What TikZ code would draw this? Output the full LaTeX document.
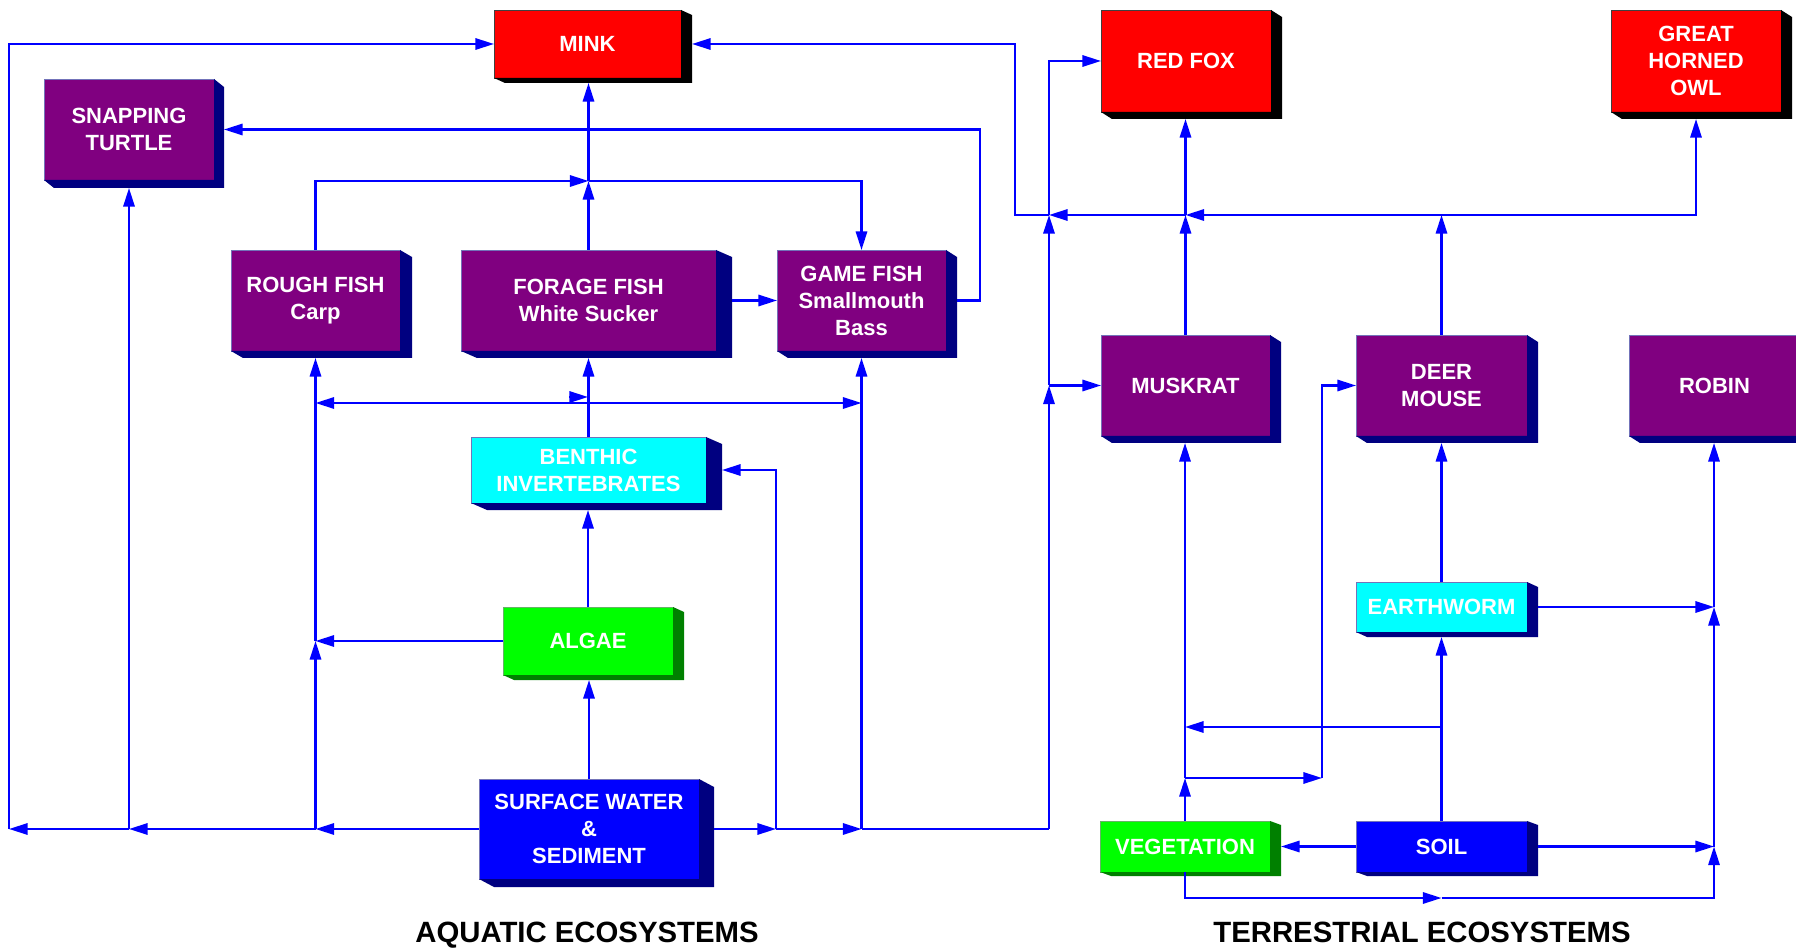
\documentclass[tikz,border=0pt]{standalone}
\usepackage{fontspec}
\setmainfont{Liberation Sans}
\usetikzlibrary{arrows.meta,calc}
\definecolor{cpurple}{RGB}{128,0,128}
\definecolor{cnavy}{RGB}{0,0,128}
\definecolor{ccyan}{RGB}{0,255,255}
\definecolor{cgreen}{RGB}{0,255,0}
\definecolor{cdkgreen}{RGB}{0,128,0}
\definecolor{cblue}{RGB}{0,0,255}
\definecolor{cred}{RGB}{255,0,0}
\newcommand\ecoboxfont{\fontsize{16.5pt}{20.25pt}\selectfont\bfseries}
\newcommand\ecotitlefont{\fontsize{22pt}{26pt}\selectfont\bfseries}
\newcommand\boxshadow[4]{%
  \fill[#2] (#1.north east) -- ++(#3,#4) -- ([shift={(#3,#4)}]#1.south east) -- ([shift={(#3,#4)}]#1.south west) -- (#1.south west) -- (#1.south east) -- cycle;
  \coordinate (#1-s) at ([shift={(#3,#4)}]#1.south east);}
\tikzset{
  box/.style={rectangle, fill=#1, inner sep=0pt, outer sep=0pt, text=white, font=\ecoboxfont, align=center, line width=0.6pt},
  redbox/.style={box=cred, draw=black!75},
  purplebox/.style={box=cpurple, draw=cnavy!55!white},
  cyanbox/.style={box=ccyan, draw=cnavy!55!white},
  greenbox/.style={box=cgreen, draw=cdkgreen!60!white},
  bluebox/.style={box=cblue, draw=cnavy!55!white},
  arr/.style={-{Triangle[length=14pt,width=8.5pt]}},
  darr/.style={{Triangle[length=14pt,width=8.5pt]}-{Triangle[length=14pt,width=8.5pt]}},
  conn/.style={draw=cblue, line width=1.6pt},
  ecotitle/.style={font=\ecotitlefont, text=black, inner sep=0pt, anchor=base}
}
\begin{document}
\begin{tikzpicture}[x=0.75pt,y=-0.75pt]
\fill[white] (0,0) rectangle (1796,948);
\useasboundingbox (0,0) rectangle (1796,948);

% ---------- boxes ----------
\node[redbox, minimum width=140.25pt, minimum height=51pt] (mink) at (587.5,44) {MINK};
\boxshadow{mink}{black}{11}{5}
\node[purplebox, minimum width=127.5pt, minimum height=75.75pt] (turtle) at (129,129.5) {SNAPPING\\TURTLE};
\boxshadow{turtle}{cnavy}{10}{8}
\node[purplebox, minimum width=126.75pt, minimum height=75.75pt] (rough) at (315.5,300.5) {ROUGH FISH\\Carp};
\boxshadow{rough}{cnavy}{12}{7}
\node[purplebox, minimum width=191.25pt, minimum height=75.75pt] (forage) at (588.5,300.5) {FORAGE FISH\\White Sucker};
\boxshadow{forage}{cnavy}{16}{7}
\node[purplebox, minimum width=126.75pt, minimum height=75.75pt] (game) at (861.5,300.5) {GAME FISH\\Smallmouth\\Bass};
\boxshadow{game}{cnavy}{11}{7}
\node[cyanbox, minimum width=176.25pt, minimum height=49.5pt] (benthic) at (588.5,470) {BENTHIC\\INVERTEBRATES};
\boxshadow{benthic}{cnavy}{16}{7}
\node[greenbox, minimum width=127.5pt, minimum height=51pt] (algae) at (588,641) {ALGAE};
\boxshadow{algae}{cdkgreen}{11}{5}
\node[bluebox, minimum width=165pt, minimum height=75pt] (sw) at (589,829) {SURFACE WATER\\\&\\SEDIMENT};
\boxshadow{sw}{cnavy}{15}{8}

\node[redbox, minimum width=127.5pt, minimum height=76.5pt] (redfox) at (1186,61) {RED FOX};
\boxshadow{redfox}{black}{11}{7}
\node[redbox, minimum width=127.5pt, minimum height=76.5pt] (owl) at (1696,61) {GREAT\\HORNED\\OWL};
\boxshadow{owl}{black}{11}{7}
\node[purplebox, minimum width=126.75pt, minimum height=75.75pt] (muskrat) at (1185.5,385.5) {MUSKRAT};
\boxshadow{muskrat}{cnavy}{11}{7}
\node[purplebox, minimum width=128.25pt, minimum height=75.75pt] (deer) at (1441.5,385.5) {DEER\\MOUSE};
\boxshadow{deer}{cnavy}{11}{7}
\node[purplebox, minimum width=128.25pt, minimum height=75.75pt] (robin) at (1714.5,385.5) {ROBIN};
\boxshadow{robin}{cnavy}{11}{7}
\node[cyanbox, minimum width=128.25pt, minimum height=37.5pt] (ew) at (1441.5,607) {EARTHWORM};
\boxshadow{ew}{cnavy}{11}{5}
\node[bluebox, minimum width=128.25pt, minimum height=38.25pt] (soil) at (1441.5,846.5) {SOIL};
\boxshadow{soil}{cnavy}{11}{4}
\node[greenbox, minimum width=127.5pt, minimum height=38.25pt] (veg) at (1185,846.5) {VEGETATION};
\boxshadow{veg}{cdkgreen}{11}{4}

% ---------- titles ----------
\node[ecotitle] (aq) at (587,942) {AQUATIC ECOSYSTEMS};
\node[ecotitle] (te) at (1422,942) {TERRESTRIAL ECOSYSTEMS};

% ---------- helper coordinates ----------
\coordinate (lft) at (9,829);
\coordinate (bx) at (776,829);
\coordinate (rv) at (1049,829);
\coordinate (hz) at (1015,215);
\coordinate (tp) at (0,181);
\coordinate (dy) at (0,403);
\coordinate (odd) at (588,397);
\coordinate (trx) at (980,0);
\coordinate (j1) at (0,778);
\coordinate (j2) at (0,727);
\coordinate (j3) at (0,898);
\coordinate (dxc) at (1322,0);
\coordinate (rx) at (1714,0);

% ---------- connectors ----------
\begin{scope}[conn]
% aquatic bottom line, leftwards
\draw[arr] (sw.west) -- (rough.south |- sw.west);
\draw[arr] (rough.south |- sw.west) -- (turtle.south |- sw.west);
\draw[arr] (turtle.south |- sw.west) -- (lft);
\draw[arr] (lft) |- (mink.west);
\draw[arr] (turtle.south |- sw.west) -- (turtle.south |- turtle-s);
\draw[arr] (rough.south |- sw.west) -- (rough.south |- algae.west);
\draw[arr] (rough.south |- algae.west) -- (rough.south |- rough-s);
\draw[arr] (algae.west) -- (rough.south |- algae.west);
% vertical chain
\draw[arr] (sw.north) -- (sw.north |- algae-s);
\draw[arr] (algae.north) -- (algae.north |- benthic-s);
\draw[arr] (benthic.north) -- (benthic.north |- forage-s);
\draw[darr] (rough.south |- dy) -- (game.south |- dy);
\draw[arr] ([xshift=-14pt]odd) -- (odd);
\draw[arr] (forage.north) -- (forage.north |- tp);
\draw[arr] (forage.north |- tp) -- (forage.north |- mink-s);
\draw[arr] (rough.north) |- (forage.north |- tp);
\draw[arr] (forage.north |- tp) -| (game.north);
\draw[arr] (forage-s |- forage.east) -- (game.west);
\draw[arr] (game-s |- game.east) -| (trx |- turtle.east) -- (turtle-s |- turtle.east);
% aquatic bottom line, rightwards
\draw[arr] (sw-s |- sw.east) -- (bx);
\draw[arr] (bx) -- (game.south |- sw.east);
\draw (game.south |- sw.east) -- (rv);
\draw[arr] (bx) |- (benthic-s |- benthic.east);
\draw[arr] (game.south |- sw.east) -- (game.south |- game-s);
% link to terrestrial
\draw[arr] (rv) -- (rv |- muskrat.west);
\draw[arr] (rv |- muskrat.west) -- (rv |- hz);
\draw[arr] (rv |- hz) |- (redfox.west);
\draw[arr] (rv |- muskrat.west) -- (muskrat.west);
% top horizontal
\draw[arr] (deer.north) -- (deer.north |- hz);
\draw[arr] (deer.north |- hz) -- (muskrat.north |- hz);
\draw[arr] (muskrat.north |- hz) -- (rv |- hz);
\draw[arr] (rv |- hz) -- (hz) |- (mink-s |- mink.east);
\draw[arr] (deer.north |- hz) -| (owl.south |- owl-s);
\draw[arr] (muskrat.north) -- (muskrat.north |- hz);
\draw[arr] (muskrat.north |- hz) -- (muskrat.north |- redfox-s);
% terrestrial lower part
\draw[arr] (veg.north) -- (veg.north |- j1);
\draw[arr] (veg.north |- j1) -- (veg.north |- muskrat-s);
\draw[arr] (veg.north |- j1) -- (dxc |- j1);
\draw[arr] (dxc |- j1) |- (deer.west);
\draw[arr] (soil.north) -- (soil.north |- ew-s);
\draw[arr] (soil.north |- j2) -- (veg.north |- j2);
\draw[arr] (ew.north) -- (ew.north |- deer-s);
\draw[arr] (ew-s |- ew.east) -- (rx |- ew.east);
\draw[arr] (soil-s |- soil.east) -- (rx |- soil.east);
\draw[arr] (soil.west) -- (veg-s |- veg.west);
\draw[arr] (veg.south) |- (soil.south |- j3);
\draw[arr] (soil.south |- j3) -| (rx |- soil.east);
\draw[arr] (rx |- soil.east) -- (rx |- ew.east);
\draw[arr] (rx |- ew.east) -- (rx |- robin-s);
\end{scope}
\end{tikzpicture}
\end{document}
